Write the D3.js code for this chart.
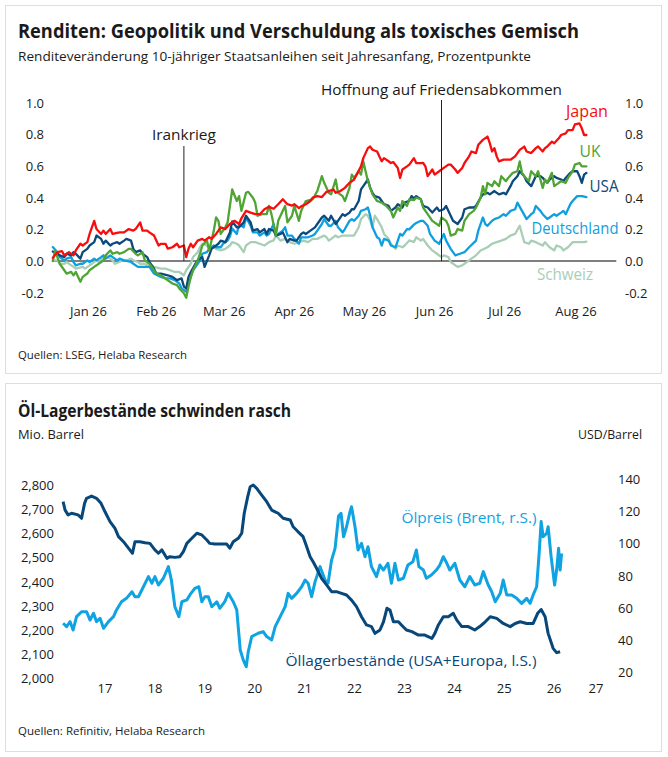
<!DOCTYPE html>
<html><head><meta charset="utf-8">
<script src="https://cdn.jsdelivr.net/npm/d3@7/dist/d3.min.js"></script>
<style>
html,body{margin:0;padding:0;background:#fff;}
svg{display:block;font-family:"Open Sans","Noto Sans",sans-serif;}
</style></head>
<body>
<svg id="c" width="668" height="757"></svg>
<script>
// ---------- DATA: chart 1 (days since 1 Jan 2026, Prozentpunkte) ----------
const monthLabels = ["Jan 26","Feb 26","Mar 26","Apr 26","May 26","Jun 26","Jul 26","Aug 26"];
const yTicksTop = [-0.2,0,0.2,0.4,0.6,0.8,1.0];
const japan = [[0,0.02],[2,0.056],[4,0.062],[5,0.036],[7,0.056],[9,0.036],[10,0.067],[12,0.109],[13,0.098],[15,0.119],[16,0.171],[18,0.254],[19,0.202],[21,0.171],[22,0.192],[23,0.171],[25,0.202],[26,0.171],[29,0.181],[31,0.181],[33,0.202],[35,0.192],[36,0.202],[38,0.244],[39,0.192],[41,0.192],[42,0.181],[44,0.161],[46,0.098],[47,0.109],[49,0.109],[50,0.078],[52,0.087],[54,0.109],[55,0.087],[57,0.098],[58,0.025],[59,0.078],[60,0.109],[61,0.087],[63,0.129],[65,0.14],[66,0.129],[68,0.15],[69,0.14],[71,0.171],[72,0.192],[73,0.213],[75,0.202],[77,0.234],[79,0.254],[81,0.234],[82,0.27],[84,0.317],[86,0.306],[88,0.296],[90,0.296],[92,0.327],[94,0.342],[96,0.33],[98,0.359],[100,0.39],[102,0.359],[104,0.35],[105,0.359],[107,0.334],[108,0.345],[110,0.359],[112,0.379],[113,0.4],[115,0.41],[117,0.404],[119,0.437],[120,0.442],[122,0.452],[123,0.431],[125,0.442],[127,0.462],[129,0.494],[131,0.515],[134,0.598],[135,0.65],[137,0.713],[138,0.723],[139,0.703],[141,0.692],[142,0.66],[143,0.63],[144,0.65],[146,0.63],[147,0.619],[148,0.625],[150,0.588],[151,0.525],[152,0.578],[154,0.598],[155,0.609],[157,0.65],[158,0.619],[160,0.619],[161,0.62],[162,0.598],[163,0.536],[165,0.578],[166,0.546],[168,0.567],[170,0.588],[172,0.609],[173,0.609],[175,0.578],[176,0.557],[178,0.588],[179,0.619],[181,0.661],[182,0.692],[184,0.682],[185,0.734],[187,0.765],[189,0.786],[190,0.744],[191,0.692],[192,0.713],[193,0.661],[194,0.629],[196,0.64],[199,0.64],[201,0.661],[203,0.702],[205,0.723],[206,0.692],[208,0.682],[210,0.713],[211,0.723],[213,0.692],[214,0.713],[215,0.723],[217,0.754],[218,0.744],[220,0.775],[221,0.796],[223,0.806],[224,0.827],[226,0.827],[227,0.863],[229,0.869],[230,0.838],[231,0.796],[232,0.796]];
const uk = [[0,0],[1,0.067],[2,0.025],[3,-0.017],[5,-0.058],[6,-0.079],[8,-0.069],[9,-0.09],[10,-0.069],[12,-0.131],[13,-0.1],[15,-0.079],[16,-0.058],[18,-0.037],[19,-0.027],[21,-0.006],[22,0.004],[23,0.036],[25,0.067],[26,0.046],[28,0.056],[29,0.046],[31,0.056],[33,0.077],[34,0.077],[36,0.046],[37,0.036],[39,0.056],[40,0.004],[42,-0.017],[44,-0.058],[45,-0.079],[47,-0.09],[50,-0.121],[52,-0.142],[54,-0.152],[55,-0.173],[57,-0.204],[58,-0.232],[59,-0.162],[60,-0.1],[61,-0.058],[63,0.004],[64,0.046],[65,0.098],[67,0.129],[68,0.067],[70,0.192],[71,0.275],[72,0.254],[73,0.171],[75,0.213],[76,0.244],[78,0.452],[80,0.379],[81,0.41],[82,0.317],[84,0.431],[85,0.437],[87,0.4],[88,0.369],[89,0.286],[91,0.296],[93,0.296],[94,0.348],[95,0.3],[97,0.161],[98,0.254],[100,0.317],[101,0.348],[102,0.244],[104,0.286],[105,0.348],[107,0.254],[108,0.317],[110,0.379],[113,0.39],[115,0.442],[117,0.536],[118,0.494],[120,0.431],[121,0.421],[123,0.515],[124,0.431],[126,0.41],[127,0.379],[129,0.462],[130,0.546],[131,0.525],[133,0.567],[134,0.546],[135,0.629],[136,0.567],[137,0.504],[139,0.421],[141,0.379],[143,0.369],[145,0.348],[147,0.317],[148,0.275],[150,0.338],[151,0.317],[152,0.379],[154,0.348],[155,0.39],[157,0.385],[158,0.4],[160,0.39],[161,0.338],[163,0.296],[165,0.254],[168,0.223],[169,0.275],[171,0.254],[172,0.223],[173,0.161],[175,0.171],[176,0.202],[178,0.192],[179,0.254],[181,0.296],[183,0.317],[184,0.338],[186,0.4],[187,0.473],[188,0.421],[189,0.494],[191,0.473],[192,0.504],[194,0.473],[195,0.536],[197,0.504],[198,0.525],[200,0.557],[202,0.567],[203,0.629],[204,0.557],[205,0.536],[207,0.504],[208,0.567],[210,0.536],[211,0.567],[213,0.462],[214,0.515],[215,0.494],[217,0.557],[218,0.473],[220,0.494],[221,0.504],[223,0.494],[224,0.525],[226,0.567],[227,0.609],[229,0.619],[230,0.598],[232,0.598]];
const usa = [[0,0.06],[2,0.046],[3,0.036],[5,0.025],[6,0.046],[8,0.036],[9,0.056],[10,0.046],[12,0.015],[13,0.056],[15,0.077],[16,0.098],[18,0.119],[19,0.161],[21,0.14],[22,0.109],[23,0.129],[25,0.098],[26,0.109],[28,0.119],[29,0.109],[31,0.129],[32,0.14],[34,0.129],[35,0.077],[36,0.056],[38,0.067],[39,0.046],[41,0.025],[42,-0.006],[44,-0.048],[45,-0.079],[47,-0.079],[50,-0.09],[52,-0.1],[54,-0.121],[56,-0.11],[57,-0.162],[58,-0.173],[59,-0.1],[60,-0.069],[62,-0.017],[63,0.004],[65,0.025],[66,-0.037],[68,0.036],[69,0.077],[71,0.098],[72,0.109],[73,0.129],[75,0.119],[77,0.18],[78,0.25],[80,0.213],[81,0.213],[83,0.244],[84,0.286],[86,0.244],[87,0.192],[89,0.202],[90,0.181],[92,0.202],[93,0.171],[94,0.202],[96,0.192],[97,0.161],[99,0.171],[100,0.181],[102,0.119],[103,0.14],[105,0.129],[106,0.129],[108,0.171],[109,0.181],[110,0.171],[112,0.192],[114,0.213],[115,0.234],[117,0.275],[118,0.286],[120,0.254],[121,0.286],[123,0.234],[124,0.254],[126,0.296],[127,0.286],[129,0.306],[130,0.327],[131,0.327],[133,0.379],[134,0.452],[135,0.473],[137,0.515],[138,0.462],[139,0.431],[140,0.41],[142,0.4],[143,0.379],[144,0.359],[146,0.348],[147,0.317],[149,0.338],[150,0.359],[152,0.338],[153,0.369],[155,0.38],[156,0.41],[157,0.395],[158,0.41],[160,0.39],[161,0.348],[163,0.338],[165,0.306],[167,0.338],[168,0.317],[170,0.327],[171,0.348],[173,0.286],[174,0.254],[176,0.234],[178,0.275],[179,0.327],[181,0.338],[183,0.338],[184,0.348],[186,0.4],[187,0.421],[189,0.431],[190,0.421],[192,0.442],[193,0.431],[194,0.421],[196,0.431],[197,0.421],[199,0.473],[200,0.504],[202,0.536],[203,0.567],[205,0.536],[206,0.504],[208,0.473],[209,0.504],[210,0.536],[212,0.536],[213,0.525],[215,0.494],[216,0.515],[218,0.536],[219,0.525],[221,0.515],[222,0.504],[223,0.525],[225,0.557],[226,0.567],[228,0.567],[229,0.536],[230,0.494],[231,0.546],[232,0.557]];
const deutschland = [[0,0.088],[2,0.056],[3,0.025],[5,0.004],[6,0.015],[8,0.025],[9,-0.006],[10,-0.027],[12,-0.017],[13,-0.017],[15,0.004],[16,-0.006],[18,0.015],[19,0.004],[21,0.025],[22,0.036],[23,0.015],[25,0.036],[26,0.025],[28,0.004],[29,0.015],[31,0.004],[34,-0.006],[35,-0.017],[37,-0.037],[39,-0.037],[42,-0.037],[43,-0.058],[44,-0.079],[47,-0.1],[49,-0.11],[51,-0.11],[53,-0.121],[55,-0.142],[56,-0.173],[58,-0.194],[59,-0.142],[60,-0.1],[61,-0.058],[63,-0.017],[64,0.004],[65,0.046],[67,0.056],[68,0.077],[70,0.098],[71,0.087],[73,0.087],[74,0.109],[76,0.129],[77,0.155],[78,0.205],[80,0.171],[81,0.234],[83,0.213],[84,0.275],[86,0.223],[87,0.181],[89,0.181],[90,0.161],[92,0.181],[93,0.161],[94,0.171],[96,0.234],[97,0.161],[98,0.171],[100,0.192],[101,0.213],[102,0.161],[104,0.161],[105,0.14],[107,0.109],[108,0.15],[110,0.15],[111,0.15],[113,0.161],[114,0.171],[115,0.192],[117,0.234],[118,0.265],[120,0.223],[121,0.223],[123,0.254],[124,0.213],[126,0.181],[127,0.202],[129,0.254],[130,0.265],[131,0.254],[133,0.286],[134,0.317],[136,0.327],[137,0.338],[138,0.286],[139,0.213],[141,0.15],[142,0.14],[143,0.098],[144,0.14],[146,0.129],[147,0.098],[149,0.087],[150,0.129],[151,0.171],[152,0.161],[154,0.202],[155,0.2],[157,0.23],[158,0.24],[160,0.254],[161,0.254],[163,0.223],[164,0.171],[166,0.129],[168,0.109],[169,0.14],[170,0.171],[171,0.129],[173,0.077],[175,0.036],[177,0.046],[179,0.056],[181,0.087],[184,0.129],[185,0.192],[187,0.275],[188,0.234],[189,0.223],[191,0.254],[192,0.265],[194,0.275],[196,0.296],[197,0.286],[199,0.317],[201,0.327],[202,0.369],[204,0.317],[206,0.265],[208,0.296],[209,0.306],[210,0.348],[212,0.317],[213,0.296],[215,0.265],[216,0.275],[218,0.296],[219,0.286],[221,0.306],[222,0.317],[223,0.296],[225,0.359],[226,0.379],[228,0.41],[230,0.41],[232,0.404]];
const schweiz = [[0,0.004],[2,0.004],[3,-0.017],[5,-0.017],[6,-0.006],[8,-0.027],[9,-0.037],[10,-0.048],[13,-0.037],[14,-0.048],[16,-0.027],[17,-0.017],[19,0.004],[20,-0.006],[22,0.025],[23,0.036],[24,0.025],[26,0.004],[27,-0.017],[29,-0.006],[30,0.004],[32,0.004],[34,0.015],[35,0.004],[37,-0.006],[38,-0.017],[40,-0.017],[42,-0.037],[43,-0.027],[44,-0.037],[47,-0.048],[49,-0.048],[51,-0.058],[53,-0.069],[55,-0.069],[57,-0.09],[58,-0.058],[60,-0.017],[61,0.025],[63,0.056],[64,0.087],[65,0.109],[67,0.098],[68,0.077],[70,0.087],[71,0.077],[73,0.067],[75,0.077],[77,0.098],[78,0.119],[80,0.109],[81,0.098],[83,0.056],[84,0.098],[86,0.119],[88,0.119],[90,0.109],[92,0.098],[94,0.119],[96,0.13],[97,0.161],[99,0.129],[101,0.14],[103,0.119],[105,0.109],[107,0.119],[109,0.129],[111,0.119],[113,0.14],[115,0.14],[118,0.161],[119,0.15],[120,0.129],[123,0.161],[124,0.15],[126,0.161],[128,0.161],[130,0.161],[131,0.161],[133,0.213],[134,0.265],[136,0.296],[137,0.286],[138,0.254],[139,0.213],[140,0.286],[141,0.265],[143,0.213],[144,0.171],[146,0.14],[147,0.109],[149,0.077],[150,0.098],[152,0.087],[153,0.098],[155,0.13],[157,0.12],[158,0.15],[160,0.129],[161,0.14],[163,0.098],[165,0.067],[167,0.046],[169,0.025],[170,0.036],[172,0.025],[173,-0.006],[176,-0.037],[178,-0.027],[180,-0.006],[182,0.015],[184,0.036],[186,0.067],[189,0.087],[191,0.109],[193,0.119],[195,0.129],[197,0.14],[199,0.161],[201,0.171],[203,0.223],[204,0.171],[205,0.119],[207,0.109],[208,0.129],[210,0.119],[213,0.098],[214,0.119],[216,0.087],[218,0.067],[219,0.098],[221,0.087],[222,0.067],[224,0.087],[226,0.119],[229,0.119],[231,0.119],[232,0.123]];
const seriesNames = ["Schweiz","Deutschland","USA","UK","Japan"];
const events = [["2026-02-27","Irankrieg"],["2026-06-19","Hoffnung auf Friedensabkommen"]];

// ---------- DATA: chart 2 (decimal year) ----------
const yearLabels = ["17","18","19","20","21","22","23","24","25","26","27"];
const leftTicks = [2000,2100,2200,2300,2400,2500,2600,2700,2800];
const rightTicks = [20,40,60,80,100,120,140];
const stocks = [[2016.66,2731],[2016.70,2696],[2016.76,2676],[2016.83,2683],[2016.96,2676],[2017.03,2662],[2017.09,2724],[2017.13,2745],[2017.23,2754],[2017.33,2745],[2017.42,2724],[2017.50,2689],[2017.60,2648],[2017.70,2620],[2017.77,2586],[2017.87,2565],[2017.97,2538],[2018.05,2517],[2018.10,2565],[2018.20,2565],[2018.30,2561],[2018.40,2558],[2018.50,2531],[2018.57,2517],[2018.64,2531],[2018.74,2496],[2018.80,2503],[2018.90,2500],[2019.00,2503],[2019.07,2524],[2019.14,2558],[2019.24,2579],[2019.34,2600],[2019.44,2593],[2019.54,2572],[2019.60,2558],[2019.70,2555],[2019.84,2555],[2019.94,2555],[2020.00,2538],[2020.07,2565],[2020.17,2579],[2020.24,2600],[2020.29,2683],[2020.36,2752],[2020.41,2793],[2020.47,2800],[2020.54,2786],[2020.64,2758],[2020.74,2731],[2020.84,2696],[2020.91,2689],[2020.97,2683],[2021.07,2662],[2021.21,2655],[2021.27,2627],[2021.37,2606],[2021.47,2586],[2021.54,2545],[2021.61,2503],[2021.67,2482],[2021.74,2455],[2021.84,2413],[2021.94,2386],[2022.04,2358],[2022.14,2358],[2022.24,2351],[2022.34,2344],[2022.44,2323],[2022.54,2296],[2022.64,2254],[2022.74,2220],[2022.84,2213],[2022.91,2185],[2023.01,2199],[2023.08,2233],[2023.15,2289],[2023.21,2282],[2023.28,2233],[2023.38,2233],[2023.44,2220],[2023.54,2199],[2023.65,2192],[2023.78,2178],[2023.91,2178],[2024.05,2164],[2024.11,2185],[2024.18,2220],[2024.28,2254],[2024.38,2254],[2024.48,2268],[2024.55,2240],[2024.65,2213],[2024.78,2213],[2024.91,2199],[2025.01,2213],[2025.12,2233],[2025.22,2254],[2025.35,2247],[2025.48,2226],[2025.62,2213],[2025.72,2226],[2025.82,2233],[2025.95,2226],[2026.08,2226],[2026.17,2268],[2026.24,2284],[2026.32,2254],[2026.38,2185],[2026.48,2123],[2026.55,2105],[2026.62,2109]];
const brent = [[2016.66,50.3],[2016.73,48.2],[2016.80,51.3],[2016.86,46.1],[2016.93,54.4],[2017.03,57.5],[2017.13,57.5],[2017.20,52.3],[2017.27,56.5],[2017.33,51.3],[2017.40,53.4],[2017.47,47.2],[2017.57,51.3],[2017.67,54.4],[2017.73,58.6],[2017.83,63.7],[2017.93,65.8],[2018.04,69.9],[2018.10,66.8],[2018.17,66.8],[2018.27,73.0],[2018.37,79.3],[2018.44,75.2],[2018.50,79.3],[2018.57,74.1],[2018.67,78.3],[2018.77,85.5],[2018.83,77.2],[2018.90,60.6],[2018.98,54.4],[2019.04,63.7],[2019.14,64.8],[2019.20,67.9],[2019.30,72.0],[2019.38,73.0],[2019.44,63.7],[2019.50,66.8],[2019.57,66.8],[2019.64,60.6],[2019.74,63.7],[2019.80,59.6],[2019.90,63.7],[2019.97,68.9],[2020.07,63.7],[2020.14,58.6],[2020.21,33.7],[2020.27,27.5],[2020.33,23.3],[2020.37,32.6],[2020.44,42.0],[2020.57,44.1],[2020.67,45.1],[2020.74,42.0],[2020.84,39.9],[2020.91,48.2],[2021.01,54.4],[2021.11,60.6],[2021.17,68.9],[2021.24,65.8],[2021.34,68.9],[2021.44,73.0],[2021.51,77.2],[2021.57,75.2],[2021.64,66.8],[2021.71,76.2],[2021.81,85.5],[2021.91,77.2],[2021.97,75.2],[2022.04,89.6],[2022.11,96.9],[2022.18,117.0],[2022.23,118.7],[2022.28,104.1],[2022.34,110.3],[2022.41,119.7],[2022.44,122.8],[2022.51,110.3],[2022.57,95.9],[2022.64,100.0],[2022.71,91.7],[2022.77,97.9],[2022.84,85.5],[2022.94,79.3],[2023.01,86.5],[2023.08,83.4],[2023.17,87.6],[2023.24,75.2],[2023.31,87.6],[2023.38,77.2],[2023.48,78.3],[2023.57,86.5],[2023.67,88.6],[2023.74,95.9],[2023.79,85.5],[2023.88,83.4],[2023.94,78.3],[2024.04,80.3],[2024.14,83.4],[2024.21,86.5],[2024.28,91.7],[2024.35,87.6],[2024.41,83.4],[2024.51,87.6],[2024.61,77.2],[2024.71,73.0],[2024.81,79.3],[2024.91,74.1],[2025.01,75.2],[2025.08,82.4],[2025.18,74.1],[2025.25,69.9],[2025.32,63.7],[2025.42,68.9],[2025.48,77.2],[2025.55,67.9],[2025.65,67.9],[2025.75,65.8],[2025.85,62.7],[2025.95,65.8],[2026.02,62.7],[2026.08,67.9],[2026.15,73.0],[2026.20,93.8],[2026.24,113.5],[2026.28,104.1],[2026.35,106.2],[2026.38,110.3],[2026.44,91.7],[2026.51,74.1],[2026.55,83.4],[2026.59,96.9],[2026.62,83.4],[2026.65,93.8]];

// ---------- DRAW ----------
const svg = d3.select("#c");
const loc = d3.formatLocale({decimal:".",thousands:",",grouping:[3],currency:["",""],minus:"-"});
const f1 = loc.format(".1f"), fth = loc.format(",.0f");
const ink = "#1a1a1a";

function txt(g, x, y, s, o) {
  o = o || {};
  const t = g.append("text").attr("x", x).attr("y", y).text(s)
    .attr("dominant-baseline", "central")
    .attr("font-size", o.size || 13)
    .attr("font-weight", o.weight || 400)
    .attr("fill", o.fill || ink)
    .attr("text-anchor", o.anchor || "start");
  if (o.len) t.attr("textLength", o.len).attr("lengthAdjust", "spacingAndGlyphs");
  return t;
}

// panels
[[5.5,5.5],[5.5,383.5]].forEach(([x,y]) => {
  svg.append("rect").attr("x",x).attr("y",y).attr("width",656).attr("height",368)
    .attr("fill","#fff").attr("stroke","#dedede").attr("stroke-width",1);
});

// ----- chart 1 -----
const g1 = svg.append("g");
txt(g1, 18, 31, "Renditen: Geopolitik und Verschuldung als toxisches Gemisch", {size:19, weight:700, len:561});
txt(g1, 18, 56, "Renditeveränderung 10-jähriger Staatsanleihen seit Jahresanfang, Prozentpunkte", {size:13.5, len:513});
txt(g1, 18, 354, "Quellen: LSEG, Helaba Research", {size:11.5, len:169});

const t0 = new Date(2026,0,1);
const xT = d3.scaleTime().domain([t0, new Date(2026,8,3)]).range([52.8, 616.3]);
const yT = d3.scaleLinear().domain([-0.2, 1.0]).range([292.7, 102.7]);
const dd = d => d3.timeDay.offset(t0, d);

yTicksTop.forEach(v => {
  txt(g1, 44, yT(v), f1(v), {anchor:"end"});
  txt(g1, 625, yT(v), f1(v));
});
monthLabels.forEach((m, i) => {
  const a = new Date(2026, i, 1), b = new Date(2026, i+1, 1);
  txt(g1, xT(new Date((+a + +b)/2)), 311, m, {anchor:"middle"});
});
g1.append("line").attr("x1", xT.range()[0]).attr("x2", xT.range()[1])
  .attr("y1", yT(0)).attr("y2", yT(0)).attr("stroke","#555").attr("stroke-width",1.4);

const colors = {Japan:"#f70d0d", UK:"#50a434", USA:"#0b4a7a", Deutschland:"#0d9fe0", Schweiz:"#a8ceb6"};
const dataTop = {Japan:japan, UK:uk, USA:usa, Deutschland:deutschland, Schweiz:schweiz};
const lineT = d3.line().x(d => xT(dd(d[0]))).y(d => yT(d[1]));
seriesNames.forEach(n => {
  g1.append("path").attr("d", lineT(dataTop[n])).attr("fill","none")
    .attr("stroke", colors[n]).attr("stroke-width", 2.3)
    .attr("stroke-linejoin","round").attr("stroke-linecap","round");
});

// event lines
const evTop = [146, 100];
const evLabelY = [134, 89];
events.forEach(([d, label], i) => {
  const x = xT(d3.timeParse("%Y-%m-%d")(d));
  g1.append("line").attr("x1", x).attr("x2", x).attr("y1", evTop[i]).attr("y2", yT(0))
    .attr("stroke", "#222").attr("stroke-width", 1);
  txt(g1, x, evLabelY[i], label, {anchor:"middle", size:15, len: i === 0 ? 64 : 241});
});

// series labels
const lab = [["Japan",587,111,42],["UK",590,151,21],["USA",604,186,29],["Deutschland",575,228,87],["Schweiz",565,274,56]];
lab.forEach(([n, x, y, w]) => txt(g1, x, y, n, {anchor:"middle", size:16, fill:colors[n], len:w}));

// ----- chart 2 -----
const g2 = svg.append("g");
txt(g2, 18, 410, "Öl-Lagerbestände schwinden rasch", {size:18, weight:700, len:273});
txt(g2, 18, 434, "Mio. Barrel", {size:12.5, len:66});
txt(g2, 642, 434, "USD/Barrel", {size:12.5, anchor:"end", len:64});
txt(g2, 18, 730, "Quellen: Refinitiv, Helaba Research", {size:11.5, len:187});

const xB = d3.scaleLinear().domain([2016.66, 2027.68]).range([63.1, 613]);
const yL = d3.scaleLinear().domain([2000, 2800]).range([678, 485]);
const yR = d3.scaleLinear().domain([20, 140]).range([672, 479]);

leftTicks.forEach(v => txt(g2, 54, yL(v), fth(v), {anchor:"end"}));
rightTicks.forEach(v => txt(g2, 618, yR(v), String(v)));
yearLabels.forEach(s => {
  const y = 2000 + +s;
  const a = Math.max(y, xB.domain()[0]), b = Math.min(y + 1, xB.domain()[1]);
  txt(g2, xB((a + b) / 2), 688, s, {anchor:"middle"});
});

const oilBlue = "#0fa3e2", stockBlue = "#07477a";
g2.append("path").attr("d", d3.line().x(d => xB(d[0])).y(d => yR(d[1]))(brent))
  .attr("fill","none").attr("stroke", oilBlue).attr("stroke-width", 3).attr("stroke-linejoin","round");
g2.append("path").attr("d", d3.line().x(d => xB(d[0])).y(d => yL(d[1]))(stocks))
  .attr("fill","none").attr("stroke", stockBlue).attr("stroke-width", 3).attr("stroke-linejoin","round");

txt(g2, 469, 517, "Ölpreis (Brent, r.S.)", {anchor:"middle", size:15, fill:oilBlue, len:135});
txt(g2, 411, 660, "Öllagerbestände (USA+Europa, l.S.)", {anchor:"middle", size:15, fill:stockBlue, len:251});
</script>
</body></html>
